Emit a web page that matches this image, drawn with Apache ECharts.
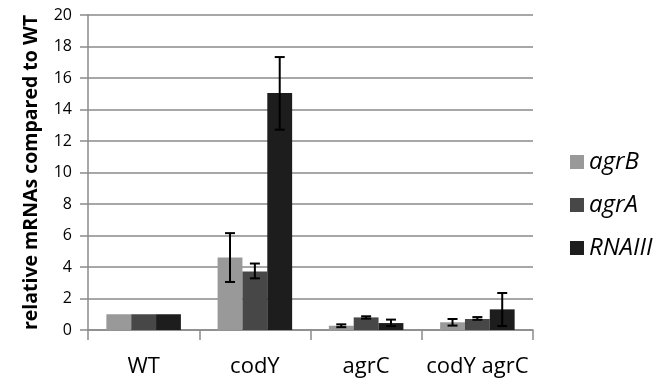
<!DOCTYPE html>
<html><head><meta charset="utf-8">
<script src="https://cdn.jsdelivr.net/npm/echarts@6/dist/echarts.min.js"></script>
<style>html,body{margin:0;padding:0;background:#fff}#c{width:665px;height:386px}</style>
</head><body><div id="c"></div>
<script>
var categories = ['WT', 'codY', 'agrC', 'codY agrC'];
var seriesNames = ['agrB', 'agrA', 'RNAIII'];
var agrB = [1.0, 4.6, 0.27, 0.49];
var agrA = [1.0, 3.72, 0.8, 0.7];
var RNAIII = [1.0, 15.05, 0.44, 1.31];
var agrBErr = [[1, 1], [3.05, 6.15], [0.18, 0.36], [0.28, 0.7]];
var agrAErr = [[1, 1], [3.28, 4.22], [0.72, 0.87], [0.65, 0.82]];
var RNAIIIErr = [[1, 1], [12.72, 17.33], [0.25, 0.66], [0.25, 2.35]];
var yTicks = [0, 2, 4, 6, 8, 10, 12, 14, 16, 18, 20];

var colors = ['#999999', '#474747', '#1d1d1d'];
var values = [agrB, agrA, RNAIII];
var errs = [agrBErr, agrAErr, RNAIIIErr];
var gap = 0.33;
var font = '"Open Sans", "Noto Sans", sans-serif';

var series = [];
values.forEach(function (v, i) {
  series.push({
    name: seriesNames[i], type: 'bar', data: v, barGap: '0%', barCategoryGap: (gap * 100) + '%',
    itemStyle: { color: colors[i] }, emphasis: { disabled: true }
  });
});
errs.forEach(function (e, i) {
  var data = e.map(function (d, j) { return [j, d[0], d[1]]; });
  series.push({
    type: 'custom', silent: true, z: 10,
    data: data,
    renderItem: function (params, api) {
      var cx = api.value(0);
      var lo = api.coord([cx, api.value(1)]);
      var hi = api.coord([cx, api.value(2)]);
      var band = api.size([1, 0])[0];
      var bw = band * (1 - gap) / 3;
      var x = lo[0] + (i - 1) * bw;
      if (Math.abs(hi[1] - lo[1]) < 0.5) return null;
      var c = 5;
      var st = { stroke: '#000', lineWidth: 2 };
      return { type: 'group', children: [
        { type: 'line', shape: { x1: x, y1: lo[1], x2: x, y2: hi[1] }, style: st },
        { type: 'line', shape: { x1: x - c, y1: lo[1], x2: x + c, y2: lo[1] }, style: st },
        { type: 'line', shape: { x1: x - c, y1: hi[1], x2: x + c, y2: hi[1] }, style: st }
      ]};
    }
  });
});

var chart = echarts.init(document.getElementById('c'));
chart.setOption({
  animation: false,
  backgroundColor: '#fff',
  grid: { left: 88, right: 132, top: 15, bottom: 56 },
  legend: {
    data: seriesNames,
    orient: 'vertical', left: 565, top: 145,
    itemWidth: 14, itemHeight: 14, itemGap: 19, icon: 'rect',
    textStyle: { fontFamily: font, fontSize: 24, fontStyle: 'italic', color: '#000' }
  },
  xAxis: {
    type: 'category', data: categories,
    axisLine: { lineStyle: { color: '#8a8a8a', width: 1.5 } },
    axisTick: { show: true, length: 10, lineStyle: { color: '#8a8a8a', width: 1.5 } },
    axisLabel: { interval: 0, fontFamily: font, fontSize: 22, color: '#000', margin: 26 }
  },
  yAxis: {
    type: 'value', min: 0, max: 20, interval: 2,
    name: 'relative mRNAs compared to WT', nameLocation: 'middle', nameGap: 47,
    nameTextStyle: { fontFamily: font, fontSize: 19.5, fontWeight: 'bold', color: '#000' },
    axisLine: { show: true, lineStyle: { color: '#8a8a8a', width: 1.5 } },
    axisTick: { show: true, length: 8, lineStyle: { color: '#8a8a8a', width: 1.5 } },
    splitLine: { lineStyle: { color: '#8a8a8a', width: 1.5 } },
    axisLabel: { fontFamily: font, fontSize: 16, color: '#000', margin: 16,
      formatter: function (v) { return yTicks.indexOf(v) >= 0 ? String(v) : ''; } }
  },
  series: series
});
</script></body></html>
